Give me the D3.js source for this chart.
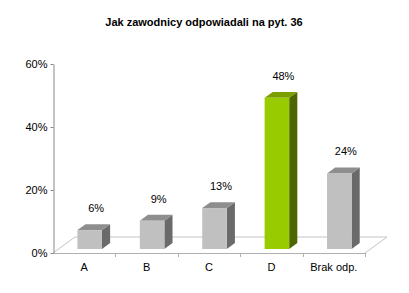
<!DOCTYPE html>
<html>
<head>
<meta charset="utf-8">
<script src="https://cdn.jsdelivr.net/npm/d3@7"></script>
<style>
  body { margin: 0; background: #fff; }
  text { font-family: Arial, "Liberation Sans", sans-serif; fill: #000; }
</style>
</head>
<body>
<script>
const categories = ['A', 'B', 'C', 'D', 'Brak odp.']
const values = [0.06, 0.09, 0.13, 0.48, 0.24]
const highlight = 'D'
const yTicks = [0, 0.2, 0.4, 0.6]
const title = 'Jak zawodnicy odpowiadali na pyt. 36'

const W = 409
const H = 293
const axisX = 53
const axisRight = 365
const depthX = 22 // floor depth offset
const depthY = -16
const barZ0 = 0.25 // bar front sits a quarter into the floor depth
const barZ1 = 0.62

const svg = d3.select('body').append('svg')
  .attr('width', W)
  .attr('height', H)

svg.append('text')
  .attr('x', 204)
  .attr('y', 26)
  .attr('text-anchor', 'middle')
  .style('font-size', '11px')
  .style('font-weight', 'bold')
  .text(title)

const y = d3.scaleLinear().domain([0, 0.6]).range([253, 64])
const x = d3.scaleBand().domain(categories).range([axisX, axisRight]).paddingInner(0.607).paddingOuter(0.3)

// floor (parallelogram)
const floorY = y(0)
svg.append('path')
  .attr('d', `M${axisX},${floorY} L${axisX + depthX},${floorY + depthY} L${axisRight + depthX},${floorY + depthY} L${axisRight},${floorY}`)
  .attr('fill', 'none')
  .attr('stroke', '#c4c4c4')
  .attr('stroke-width', 1)
svg.append('line')
  .attr('x1', axisX).attr('x2', axisRight)
  .attr('y1', floorY + 0.5).attr('y2', floorY + 0.5)
  .attr('stroke', '#b0b0b0')

// category ticks at band boundaries
const bandW = (axisRight - axisX) / categories.length
const bounds = d3.range(categories.length + 1).map(i => axisX + i * bandW)
svg.selectAll('.ctick')
  .data(bounds.slice(1))
  .enter()
  .append('line')
  .attr('class', 'ctick')
  .attr('x1', d => Math.round(d) + 0.5).attr('x2', d => Math.round(d) + 0.5)
  .attr('y1', floorY).attr('y2', floorY + 4)
  .attr('stroke', '#b0b0b0')

svg.selectAll('.clabel')
  .data(categories)
  .enter()
  .append('text')
  .attr('class', 'clabel')
  .attr('x', (d, i) => axisX + bandW * (i + 0.5))
  .attr('y', 271)
  .attr('text-anchor', 'middle')
  .style('font-size', '11px')
  .text(d => d)

// value axis
const yAxis = svg.append('g')
  .attr('transform', `translate(${axisX + 0.5},0)`)
  .call(d3.axisLeft(y).tickValues(yTicks).tickFormat(d3.format('.0%')).tickSize(3).tickSizeOuter(0))
yAxis.select('.domain').attr('stroke', '#888')
yAxis.selectAll('.tick line').attr('stroke', '#888')
yAxis.selectAll('.tick text')
  .attr('x', -6)
  .style('font-size', '11px')
  .style('font-family', 'Arial, "Liberation Sans", sans-serif')
  .attr('fill', '#000')

// bars
const data = categories.map((c, i) => ({ c, v: values[i] }))
const colours = {
  grey: { front: '#c0c0c0', top: '#8e8e8e', side: '#6a6a6a' },
  green: { front: '#99cc00', top: '#7a9f00', side: '#4d6600' }
}

const bars = svg.selectAll('.bar')
  .data(data)
  .enter()
  .append('g')
  .attr('class', 'bar')

bars.each(function (d) {
  const g = d3.select(this)
  const col = d.c === highlight ? colours.green : colours.grey
  const bw = x.bandwidth()
  const cx = axisX + bandW * (categories.indexOf(d.c) + 0.5)
  const x0 = cx - bw / 2 + depthX * barZ0
  const x1 = x0 + bw
  const yb = floorY + depthY * barZ0
  const yt = y(d.v) + depthY * barZ0
  const dx = depthX * (barZ1 - barZ0)
  const dy = depthY * (barZ1 - barZ0)

  g.append('path')
    .attr('d', `M${x1},${yb} L${x1},${yt} L${x1 + dx},${yt + dy} L${x1 + dx},${yb + dy} Z`)
    .attr('fill', col.side)
  g.append('path')
    .attr('d', `M${x0},${yt} L${x0 + dx},${yt + dy} L${x1 + dx},${yt + dy} L${x1},${yt} Z`)
    .attr('fill', col.top)
  g.append('rect')
    .attr('x', x0)
    .attr('y', yt)
    .attr('width', bw)
    .attr('height', yb - yt)
    .attr('fill', col.front)

  g.append('text')
    .attr('x', cx + 12)
    .attr('y', yt - 18)
    .attr('text-anchor', 'middle')
    .style('font-size', '11px')
    .text(d3.format('.0%')(d.v))
})
</script>
</body>
</html>
